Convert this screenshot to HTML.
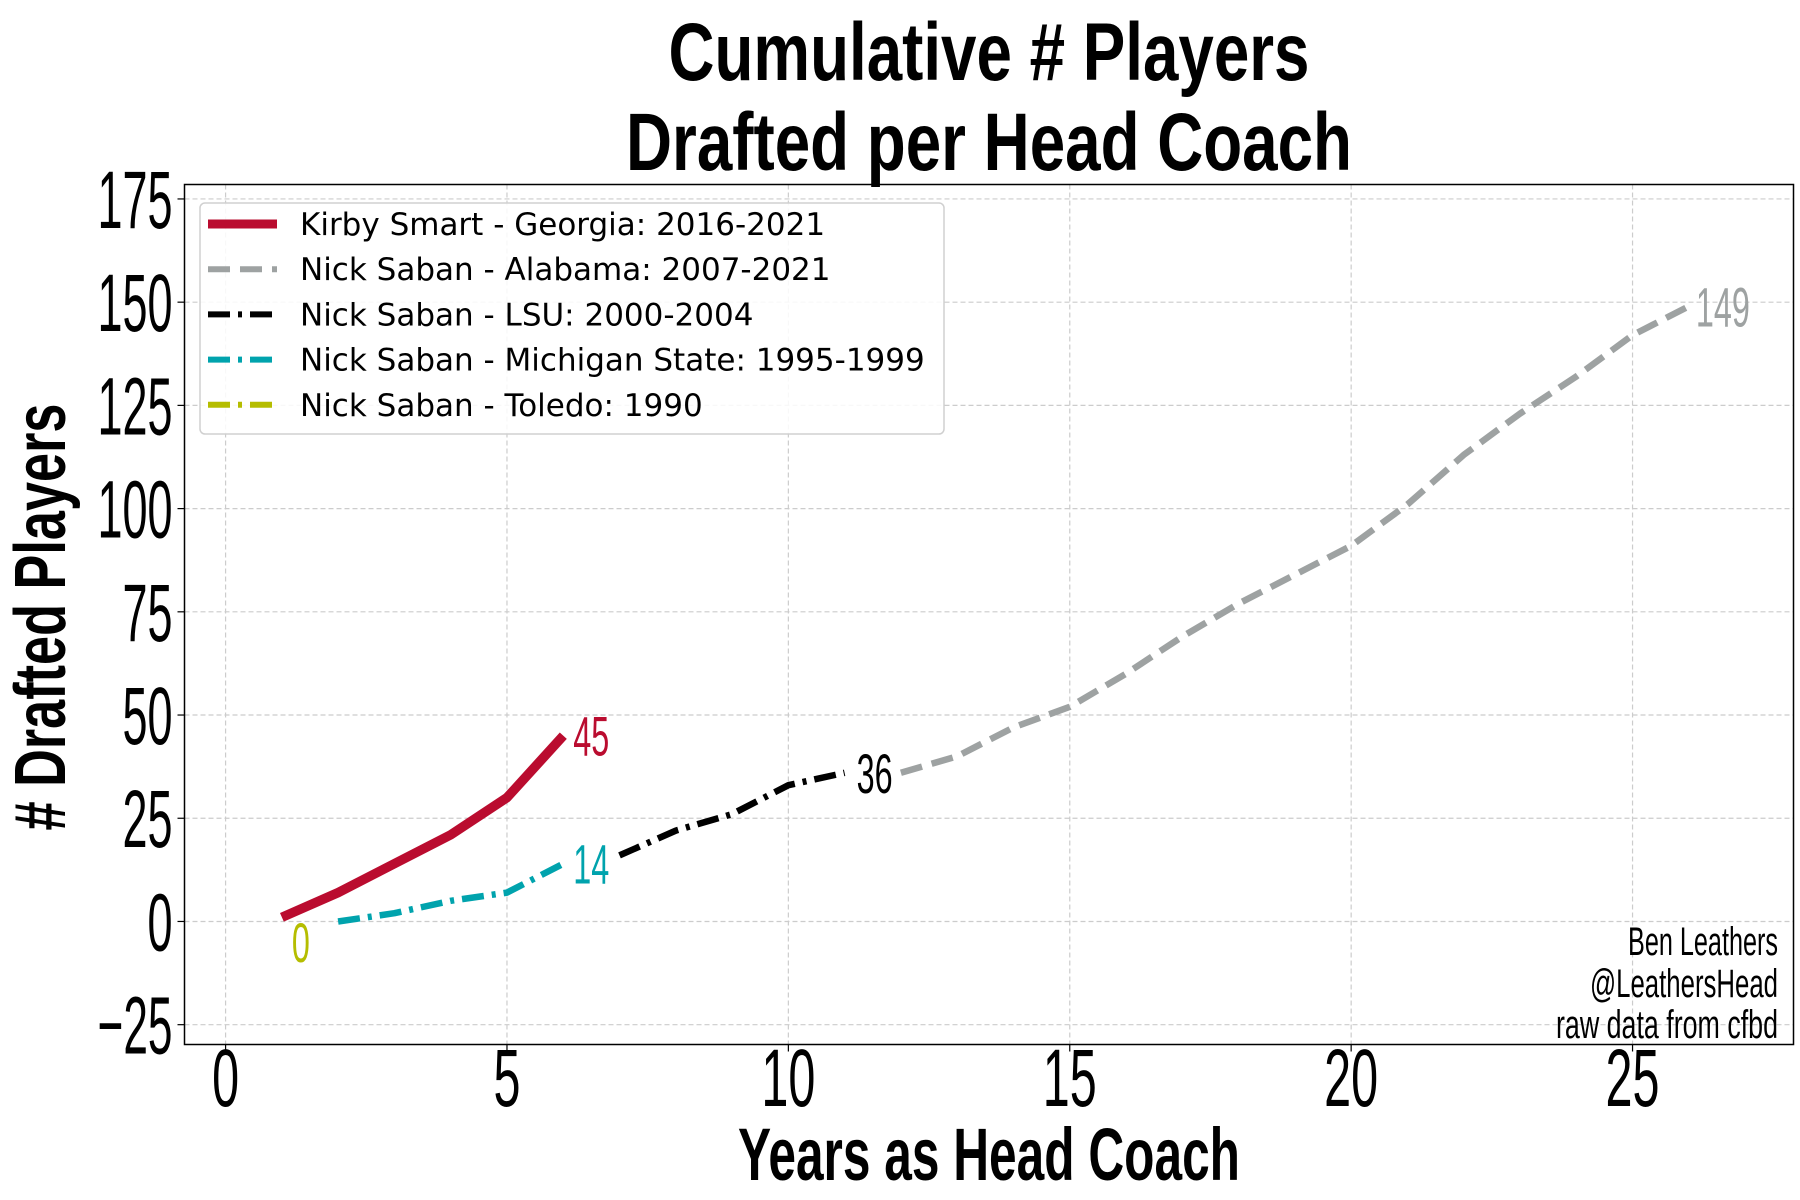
<!DOCTYPE html>
<html><head><meta charset="utf-8"><style>
html,body{margin:0;padding:0;background:#fff;}
svg{display:block;}
.tk{font-family:"Liberation Sans Narrow","Liberation Sans",sans-serif;font-weight:normal;fill:#000;}
.bd{font-family:"Liberation Sans Narrow","Liberation Sans",sans-serif;font-weight:bold;fill:#000;}
.lg{font-family:"DejaVu Sans","Liberation Sans",sans-serif;font-size:31px;fill:#000;}
</style></head><body>
<svg id="chart" width="1800" height="1200" viewBox="0 0 1800 1200" xmlns="http://www.w3.org/2000/svg">
<text class="bd" x="989" y="80" font-size="82" text-anchor="middle" textLength="641" lengthAdjust="spacingAndGlyphs">Cumulative # Players</text>
<text class="bd" x="989" y="170" font-size="82" text-anchor="middle" textLength="726" lengthAdjust="spacingAndGlyphs">Drafted per Head Coach</text>
<g id="grid"></g>
<g id="series"></g>
<rect x="184.5" y="184.5" width="1609" height="860" fill="none" stroke="#000" stroke-width="1.5"/>
<g id="ticks"></g>
<g id="labels"></g>
<text class="bd" transform="translate(65,617) rotate(-90)" font-size="72" text-anchor="middle" textLength="427" lengthAdjust="spacingAndGlyphs">#  Drafted Players</text>
<text class="bd" x="989" y="1180" font-size="74" text-anchor="middle" textLength="502" lengthAdjust="spacingAndGlyphs">Years as Head Coach</text>
<g>
<text class="tk" x="1778" y="955" font-size="40" text-anchor="end" textLength="150" lengthAdjust="spacingAndGlyphs">Ben Leathers</text>
<text class="tk" x="1778" y="997" font-size="40" text-anchor="end" textLength="188" lengthAdjust="spacingAndGlyphs">@LeathersHead</text>
<text class="tk" x="1778" y="1038" font-size="40" text-anchor="end" textLength="222" lengthAdjust="spacingAndGlyphs">raw data from cfbd</text>
</g>
<g id="legend">
<rect x="200" y="203" width="744" height="231" rx="5" fill="#fff" fill-opacity="0.85" stroke="#d0d0d0" stroke-width="1.5"/>
</g>
</svg>
<script>
const kirbyX=[1,2,3,4,5,6];
const kirbyY=[1,7,14,21,30,45];
const toledoX=[1];
const toledoY=[0];
const msuX=[2,3,4,5,6];
const msuY=[0,2,5,7,14];
const lsuX=[7,8,9,10,11];
const lsuY=[16,22,26,33,36];
const bamaX=[12,13,14,15,16,17,18,19,20,21,22,23,24,25,26];
const bamaY=[36,40,47,52,60,69,77,84,91,101,113,123,132,142,149];
const xTicks=[0,5,10,15,20,25];
const yTicks=[-25,0,25,50,75,100,125,150,175];
const legendLabels=["Kirby Smart - Georgia: 2016-2021","Nick Saban - Alabama: 2007-2021","Nick Saban - LSU: 2000-2004","Nick Saban - Michigan State: 1995-1999","Nick Saban - Toledo: 1990"];

const NS="http://www.w3.org/2000/svg";
const X0=-0.73,X1=27.86,Y0=-29.8,Y1=178.5,L=184.5,R=1793.5,T=184.5,B=1044.5;
function xs(v){return L+(v-X0)/(X1-X0)*(R-L);}
function ys(v){return B-(v-Y0)/(Y1-Y0)*(B-T);}
function mk(tag,attrs,parent){const e=document.createElementNS(NS,tag);for(const k in attrs)e.setAttribute(k,attrs[k]);parent.appendChild(e);return e;}
const grid=document.getElementById('grid'),ticks=document.getElementById('ticks'),series=document.getElementById('series'),labels=document.getElementById('labels'),legend=document.getElementById('legend');
xTicks.forEach(v=>{
  const g=mk('line',{x1:xs(v),x2:xs(v),y1:T,y2:B,stroke:'#cccccc','stroke-width':1.2,'stroke-dasharray':'5,3'},grid);
  
  
  const tm=mk('line',{x1:xs(v),x2:xs(v),y1:B,y2:B+7,stroke:'#000','stroke-width':1.2},ticks);
  
  
  const t=mk('text',{x:xs(v),y:1106,'font-size':82,'text-anchor':'middle',class:'tk',textLength:String(v).length*27,lengthAdjust:'spacingAndGlyphs'},ticks);
  t.textContent=v;
  
  
});
yTicks.forEach(v=>{
  const g=mk('line',{x1:L,x2:R,y1:ys(v),y2:ys(v),stroke:'#cccccc','stroke-width':1.2,'stroke-dasharray':'5,3'},grid);
  
  
  const tm=mk('line',{x1:L-7,x2:L,y1:ys(v),y2:ys(v),stroke:'#000','stroke-width':1.2},ticks);
  
  
  const s=String(v).replace('-','\u2212');
  const t=mk('text',{x:L-12,y:ys(v)+29,'font-size':82,'text-anchor':'end',class:'tk',textLength:s.length*25,lengthAdjust:'spacingAndGlyphs'},ticks);
  t.textContent=s;
  
  
});
const defs=[
 {xs:toledoX,ys:toledoY,c:'#b5bd00',w:6.5,d:'22,8,4,8',n:'toledo'},
 {xs:bamaX,ys:bamaY,c:'#9ea2a2',w:6.5,d:'22,10',n:'alabama'},
 {xs:lsuX,ys:lsuY,c:'#000000',w:6.5,d:'22,8,4,8',n:'lsu'},
 {xs:msuX,ys:msuY,c:'#00a3ad',w:6.5,d:'22,8,4,8',n:'michigan-state'},
 {xs:kirbyX,ys:kirbyY,c:'#ba0c2f',w:9.5,d:'',n:'kirby'}
];
defs.forEach(s=>{
  const pts=s.xs.map((x,i)=>xs(x).toFixed(1)+','+ys(s.ys[i]).toFixed(1)).join(' ');
  const p=mk('polyline',{points:pts,fill:'none',stroke:s.c,'stroke-width':s.w,'stroke-linejoin':'round'},series);
  if(s.d)p.setAttribute('stroke-dasharray',s.d);
  
  
});
function lab(txt,x,y,c,n,dx){
  const t=mk('text',{x:xs(x)+dx,y:ys(y)+20,'font-size':56,fill:c,class:'tk',style:'fill:'+c,textLength:txt.length*18,lengthAdjust:'spacingAndGlyphs'},labels);
  t.textContent=txt;
  
  
}
lab(String(kirbyY[kirbyY.length-1]),kirbyX[kirbyX.length-1],kirbyY[kirbyY.length-1],'#ba0c2f','label-kirby-total',10);
lab(String(msuY[msuY.length-1]),msuX[msuX.length-1],msuY[msuY.length-1],'#00a3ad','label-msu-total',10);
lab(String(lsuY[lsuY.length-1]),lsuX[lsuX.length-1],lsuY[lsuY.length-1],'#000000','label-lsu-total',12);
lab(String(bamaY[bamaY.length-1]),bamaX[bamaX.length-1],bamaY[bamaY.length-1],'#9ea2a2','label-alabama-total',7);
lab(String(toledoY[0]),toledoX[0],toledoY[0]-5,'#b5bd00','label-toledo-total',10);
const legDefs=[['#ba0c2f',9,''],['#9ea2a2',6,'22,10'],['#000000',6,'22,8,4,8'],['#00a3ad',6,'22,8,4,8'],['#b5bd00',6,'22,8,4,8']];
const legNames=['kirby','alabama','lsu','michigan-state','toledo'];
legendLabels.forEach((txt,i)=>{
  const y=224+i*45.2;
  const l=mk('line',{x1:208,x2:277,y1:y,y2:y,stroke:legDefs[i][0],'stroke-width':legDefs[i][1]},legend);
  if(legDefs[i][2])l.setAttribute('stroke-dasharray',legDefs[i][2]);
  
  
  const t=mk('text',{x:300,y:y+11,class:'lg'},legend);
  t.textContent=txt;
  
  
});
</script>
</body></html>
